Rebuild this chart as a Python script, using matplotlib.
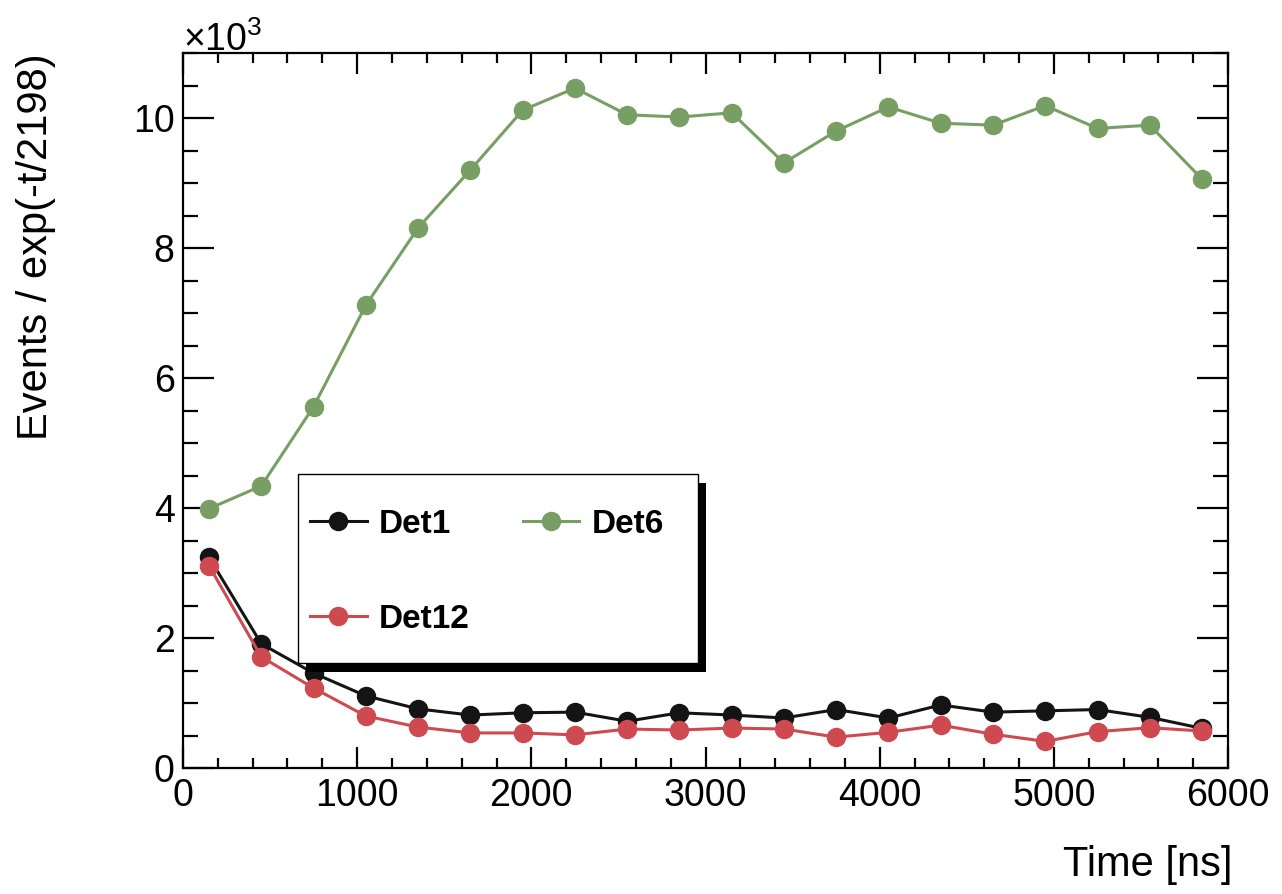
import matplotlib
matplotlib.use('Agg')
import matplotlib.pyplot as plt
from matplotlib.patches import Rectangle
from matplotlib.ticker import MultipleLocator, FuncFormatter

plt.rcParams['font.family'] = ['Liberation Sans', 'DejaVu Sans']
plt.rcParams['mathtext.fontset'] = 'custom'
plt.rcParams['mathtext.rm'] = 'Liberation Sans'
plt.rcParams['mathtext.it'] = 'Liberation Sans'

time_ns = [150, 450, 750, 1050, 1350, 1650, 1950, 2250, 2550, 2850,
           3150, 3450, 3750, 4050, 4350, 4650, 4950, 5250, 5550, 5850]
det1 = [3240, 1910, 1460, 1110, 910, 815, 850, 860, 720, 850,
        815, 770, 900, 770, 970, 860, 880, 900, 780, 610]
det6 = [3990, 4340, 5560, 7120, 8310, 9200, 10120, 10460, 10050, 10015,
        10080, 9310, 9800, 10170, 9920, 9890, 10190, 9840, 9890, 9060]
det12 = [3110, 1710, 1230, 800, 630, 540, 540, 510, 600, 585,
         615, 600, 475, 550, 660, 520, 410, 560, 620, 570]

c_det1 = '#141414'
c_det6 = '#789f63'
c_det12 = '#ce4a50'

fig = plt.figure(figsize=(12.82, 8.94), dpi=100)
ax = fig.add_axes([0.1427, 0.1409, 0.8153, 0.7998])

style = dict(marker='o', markersize=13, linewidth=2.2)
l1, = ax.plot(time_ns, det1, color=c_det1, label='Det1', zorder=3, **style)
l6, = ax.plot(time_ns, det6, color=c_det6, label='Det6', zorder=2, **style)
l12, = ax.plot(time_ns, det12, color=c_det12, label='Det12', zorder=4, **style)

ax.set_xlim(0, 6000)
ax.set_ylim(0, 11000)
ax.xaxis.set_major_locator(MultipleLocator(1000))
ax.xaxis.set_minor_locator(MultipleLocator(200))
ax.yaxis.set_major_locator(MultipleLocator(2000))
ax.yaxis.set_minor_locator(MultipleLocator(500))
ax.yaxis.set_major_formatter(FuncFormatter(lambda v, p: '%g' % (v / 1000)))

for s in ax.spines.values():
    s.set_linewidth(1.6)
ax.tick_params(which='both', direction='in', top=True, right=True,
               labelsize=27, width=1.6)
ax.tick_params(axis='y', which='major', length=22, pad=6)
ax.tick_params(axis='y', which='minor', length=11)
ax.tick_params(axis='x', which='major', length=15, pad=7)
ax.tick_params(axis='x', which='minor', length=7.5)

ax.text(0.0, 0.992, r'$\times$10$^{3}$', transform=ax.transAxes, fontsize=27,
        ha='left', va='bottom')

ax.set_ylabel('Events / exp(-t/2198)', fontsize=30, loc='top')
ax.yaxis.set_label_coords(-0.121, 1.0)
ax.set_xlabel('Time [ns]', fontsize=30, loc='right')
ax.xaxis.set_label_coords(1.004, -0.107)

# ROOT style legend box with a solid shadow
ax.add_patch(Rectangle((0.1177, 0.1343), 0.3828, 0.2643, transform=ax.transAxes,
                       facecolor='black', edgecolor='none', zorder=4.5))
ax.add_patch(Rectangle((0.110, 0.1469), 0.3828, 0.2643, transform=ax.transAxes,
                       facecolor='white', edgecolor='black', linewidth=1.0,
                       zorder=4.6))
leg = ax.legend(handles=[l1, l12, l6], ncol=2, loc='upper left',
                bbox_to_anchor=(0.1215, 0.3622), prop={'weight': 'bold', 'size': 24},
                handlelength=1.7, handletextpad=0.36, columnspacing=1.6,
                labelspacing=1.92, borderpad=0, borderaxespad=0, frameon=False)
leg.set_zorder(5)

fig.savefig('out.png', dpi=100)
